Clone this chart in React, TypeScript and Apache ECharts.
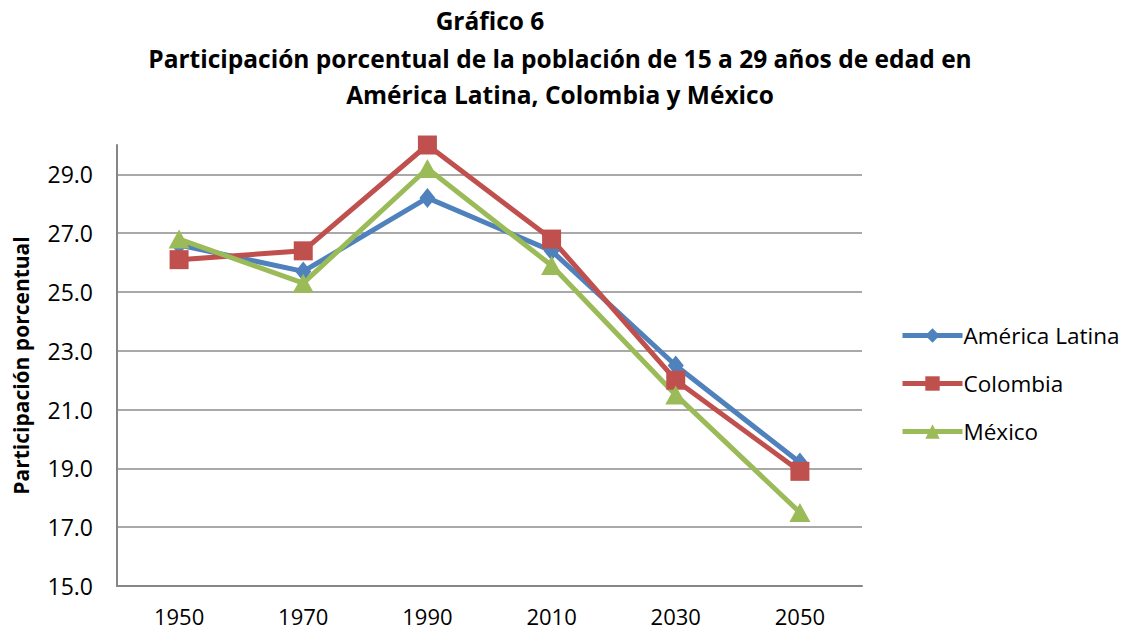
import React, { useEffect, useRef } from "react";
import * as echarts from "echarts";

const years = ["1950", "1970", "1990", "2010", "2030", "2050"];
const americaLatina = [26.6, 25.7, 28.2, 26.4, 22.5, 19.2];
const colombia = [26.1, 26.4, 30.0, 26.8, 22.0, 18.9];
const mexico = [26.8, 25.3, 29.2, 25.9, 21.5, 17.5];
const yTicks = [15, 17, 19, 21, 23, 25, 27, 29];

const FONT = "'Open Sans', 'Noto Sans', sans-serif";

export default function App() {
  const ref = useRef<HTMLDivElement>(null);
  useEffect(() => {
    if (!ref.current) return;
    const chart = echarts.init(ref.current, undefined, { renderer: "svg" });
    const gridColors = yTicks.map(() => "#8c8c8c").concat(["transparent"]);
    const titleFont = `bold 24.5px ${FONT}`;
    chart.setOption({
      animation: false,
      textStyle: { fontFamily: FONT },
      graphic: [
        {
          type: "text",
          x: 490,
          y: 20,
          style: { text: "Gráfico 6", font: titleFont, fill: "#000", textAlign: "center", textVerticalAlign: "middle" },
        },
        {
          type: "text",
          x: 560,
          y: 58,
          style: {
            text: "Participación porcentual de la población de 15 a 29 años de edad en",
            font: titleFont,
            fill: "#000",
            textAlign: "center",
            textVerticalAlign: "middle",
          },
        },
        {
          type: "text",
          x: 560,
          y: 94,
          style: { text: "América Latina, Colombia y México", font: titleFont, fill: "#000", textAlign: "center", textVerticalAlign: "middle" },
        },
      ],
      grid: { left: 117, right: 262, top: 145, bottom: 44, containLabel: false },
      legend: {
        orient: "vertical",
        left: 895,
        top: 319,
        itemWidth: 60,
        itemHeight: 18,
        itemGap: 25,
        lineStyle: { width: 5 },
        textStyle: { fontSize: 22.5, color: "#000", fontFamily: FONT, padding: [0, 0, 0, -4] },
        data: ["América Latina", "Colombia", "México"],
      },
      xAxis: {
        type: "category",
        data: years,
        boundaryGap: true,
        axisLine: { lineStyle: { color: "#868686", width: 2 } },
        axisTick: { show: false },
        axisLabel: { fontSize: 22, color: "#000", margin: 19, lineHeight: 22, fontFamily: FONT },
      },
      yAxis: {
        type: "value",
        min: 15,
        max: 30,
        interval: 2,
        name: "Participación porcentual",
        nameLocation: "middle",
        nameGap: 86,
        nameRotate: 90,
        nameTextStyle: { fontSize: 21, fontWeight: "bold", color: "#000", fontFamily: FONT },
        axisLine: { show: true, lineStyle: { color: "#868686", width: 2 } },
        axisTick: { show: false },
        axisLabel: {
          fontSize: 23,
          color: "#000",
          margin: 24,
          fontFamily: FONT,
          customValues: yTicks,
          formatter: (v: number) => v.toFixed(1),
        },
        splitLine: { show: true, lineStyle: { color: gridColors, width: 1.5 } },
      },
      series: [
        {
          name: "América Latina",
          type: "line",
          data: americaLatina,
          symbol: "diamond",
          symbolSize: [16, 20],
          lineStyle: { color: "#4F81BD", width: 5 },
          itemStyle: { color: "#4F81BD" },
        },
        {
          name: "Colombia",
          type: "line",
          data: colombia,
          symbol: "rect",
          symbolSize: 19,
          lineStyle: { color: "#C0504D", width: 5 },
          itemStyle: { color: "#C0504D" },
        },
        {
          name: "México",
          type: "line",
          data: mexico,
          symbol: "triangle",
          symbolSize: [21, 19],
          lineStyle: { color: "#9BBB59", width: 5 },
          itemStyle: { color: "#9BBB59" },
        },
      ],
    });
    return () => chart.dispose();
  }, []);
  return <div ref={ref} style={{ width: 1124, height: 630, position: "absolute", left: 0, top: 0 }} />;
}
